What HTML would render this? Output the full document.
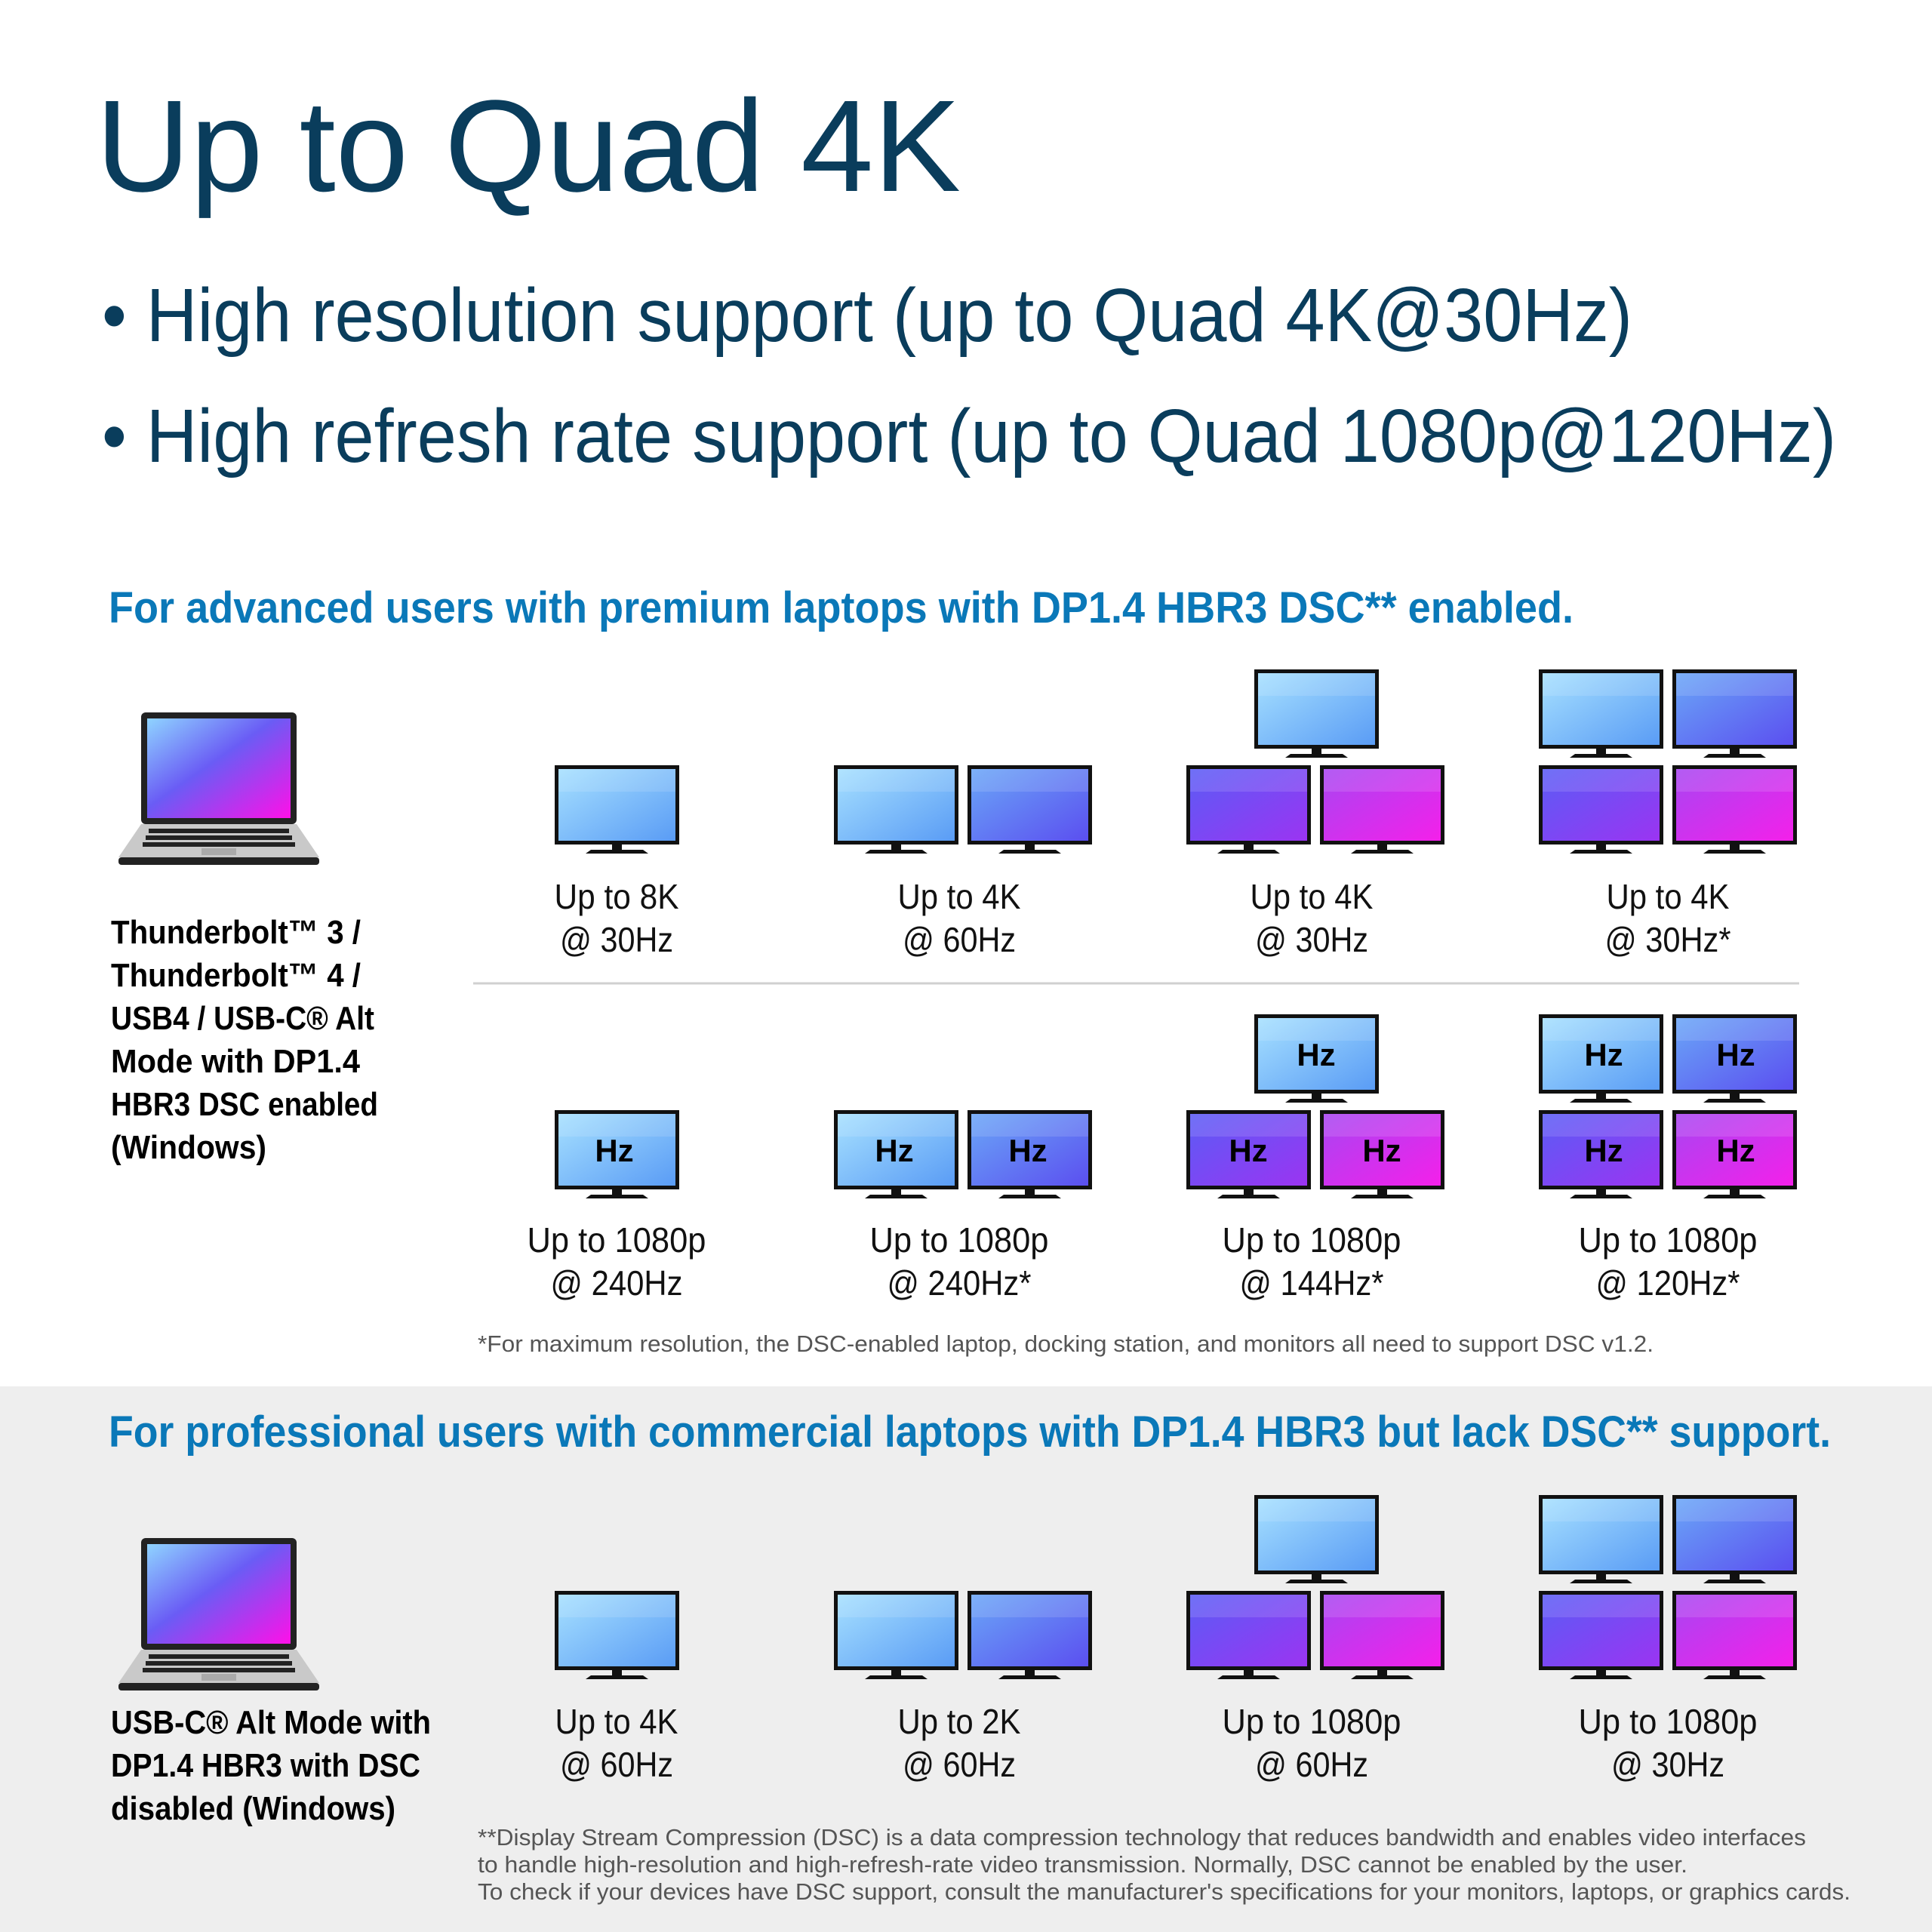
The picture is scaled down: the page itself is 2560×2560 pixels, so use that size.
<!DOCTYPE html>
<html><head><meta charset="utf-8"><style>
html,body{margin:0;padding:0;background:#fff}
svg{display:block}
text{font-family:"Liberation Sans",sans-serif}
</style></head><body>
<svg width="2560" height="2560" viewBox="0 0 2560 2560" xmlns="http://www.w3.org/2000/svg">
<defs>
<linearGradient id="g1" x1="0" y1="0" x2="1" y2="1"><stop offset="0" stop-color="#a6e0ff"/><stop offset="1" stop-color="#5a9cf5"/></linearGradient>
<linearGradient id="g2" x1="0" y1="0" x2="1" y2="1"><stop offset="0" stop-color="#6aa6f7"/><stop offset="1" stop-color="#5b4ff0"/></linearGradient>
<linearGradient id="g3" x1="0" y1="0" x2="1" y2="1"><stop offset="0" stop-color="#5b5cf5"/><stop offset="1" stop-color="#9b34f2"/></linearGradient>
<linearGradient id="g4" x1="0" y1="0" x2="1" y2="1"><stop offset="0" stop-color="#a845f2"/><stop offset="1" stop-color="#f420ea"/></linearGradient>
<linearGradient id="lg" x1="0" y1="0" x2="1" y2="1"><stop offset="0" stop-color="#8fd4ff"/><stop offset="0.45" stop-color="#6a5cf5"/><stop offset="1" stop-color="#ff10e8"/></linearGradient>
<g id="mon">
<rect x="0" y="0" width="165" height="105" fill="#111"/>
<rect x="5" y="5" width="155" height="95"/>
<rect x="5" y="5" width="155" height="30" fill="#fff" opacity="0.12"/>
<rect x="76" y="105" width="13" height="7" fill="#111"/>
<polygon points="48,112 117,112 124,117 41,117" fill="#111"/>
</g>
<g id="lap">
<rect x="30" y="0" width="206" height="148" rx="6" fill="#222"/>
<rect x="38" y="8" width="190" height="132" fill="url(#lg)"/>
<polygon points="30,148 236,148 266,192 0,192" fill="#c9c9c9"/>
<g fill="#222">
<rect x="40" y="154" width="186" height="6"/>
<rect x="36" y="163" width="194" height="6"/>
<rect x="32" y="172" width="202" height="6"/>
</g>
<rect x="110" y="180" width="46" height="9" fill="#aaa"/>
<rect x="0" y="192" width="266" height="10" rx="4" fill="#222"/>
</g>
</defs>

<text x="127" y="253" font-size="173" fill="#0a3d5c" textLength="1146" lengthAdjust="spacingAndGlyphs">Up to Quad 4K</text>
<text x="135" y="452" font-size="100" fill="#0a3d5c" textLength="2028" lengthAdjust="spacingAndGlyphs">• High resolution support (up to Quad 4K@30Hz)</text>
<text x="135" y="612" font-size="100" fill="#0a3d5c" textLength="2298" lengthAdjust="spacingAndGlyphs">• High refresh rate support (up to Quad 1080p@120Hz)</text>

<text x="144" y="825" font-size="58" font-weight="bold" fill="#0a78b8" textLength="1941" lengthAdjust="spacingAndGlyphs">For advanced users with premium laptops with DP1.4 HBR3 DSC** enabled.</text>

<rect x="0" y="1837" width="2560" height="723" fill="#eeeeee"/>
<text x="144" y="1917" font-size="58" font-weight="bold" fill="#0a78b8" textLength="2282" lengthAdjust="spacingAndGlyphs">For professional users with commercial laptops with DP1.4 HBR3 but lack DSC** support.</text>

<use href="#lap" x="157" y="944"/>
<use href="#lap" x="157" y="2038"/>

<g font-size="44" font-weight="bold" fill="#000">
<text x="147" y="1250" textLength="331" lengthAdjust="spacingAndGlyphs">Thunderbolt™ 3 /</text>
<text x="147" y="1307" textLength="331" lengthAdjust="spacingAndGlyphs">Thunderbolt™ 4 /</text>
<text x="147" y="1364" textLength="349" lengthAdjust="spacingAndGlyphs">USB4 / USB-C® Alt</text>
<text x="147" y="1421" textLength="330" lengthAdjust="spacingAndGlyphs">Mode with DP1.4</text>
<text x="147" y="1478" textLength="354" lengthAdjust="spacingAndGlyphs">HBR3 DSC enabled</text>
<text x="147" y="1535" textLength="206" lengthAdjust="spacingAndGlyphs">(Windows)</text>
<text x="147" y="2297" textLength="424" lengthAdjust="spacingAndGlyphs">USB-C® Alt Mode with</text>
<text x="147" y="2354" textLength="410" lengthAdjust="spacingAndGlyphs">DP1.4 HBR3 with DSC</text>
<text x="147" y="2411" textLength="377" lengthAdjust="spacingAndGlyphs">disabled (Windows)</text>
</g>

<!-- Row 1 -->
<use href="#mon" x="735" y="1014" fill="url(#g1)"/>
<use href="#mon" x="1105" y="1014" fill="url(#g1)"/>
<use href="#mon" x="1282" y="1014" fill="url(#g2)"/>
<use href="#mon" x="1662" y="887" fill="url(#g1)"/>
<use href="#mon" x="1572" y="1014" fill="url(#g3)"/>
<use href="#mon" x="1749" y="1014" fill="url(#g4)"/>
<use href="#mon" x="2039" y="887" fill="url(#g1)"/>
<use href="#mon" x="2216" y="887" fill="url(#g2)"/>
<use href="#mon" x="2039" y="1014" fill="url(#g3)"/>
<use href="#mon" x="2216" y="1014" fill="url(#g4)"/>

<line x1="627" y1="1303" x2="2384" y2="1303" stroke="#d0d0d0" stroke-width="3"/>

<!-- Row 2 -->
<use href="#mon" x="735" y="1471" fill="url(#g1)"/>
<use href="#mon" x="1105" y="1471" fill="url(#g1)"/>
<use href="#mon" x="1282" y="1471" fill="url(#g2)"/>
<use href="#mon" x="1662" y="1344" fill="url(#g1)"/>
<use href="#mon" x="1572" y="1471" fill="url(#g3)"/>
<use href="#mon" x="1749" y="1471" fill="url(#g4)"/>
<use href="#mon" x="2039" y="1344" fill="url(#g1)"/>
<use href="#mon" x="2216" y="1344" fill="url(#g2)"/>
<use href="#mon" x="2039" y="1471" fill="url(#g3)"/>
<use href="#mon" x="2216" y="1471" fill="url(#g4)"/>
<g font-size="42" font-weight="bold" fill="#000" text-anchor="middle">
<text x="814" y="1539">Hz</text>
<text x="1185" y="1539">Hz</text>
<text x="1362" y="1539">Hz</text>
<text x="1744" y="1412">Hz</text>
<text x="1654" y="1539">Hz</text>
<text x="1831" y="1539">Hz</text>
<text x="2125" y="1412">Hz</text>
<text x="2300" y="1412">Hz</text>
<text x="2125" y="1539">Hz</text>
<text x="2300" y="1539">Hz</text>
</g>

<!-- Section 2 -->
<use href="#mon" x="735" y="2108" fill="url(#g1)"/>
<use href="#mon" x="1105" y="2108" fill="url(#g1)"/>
<use href="#mon" x="1282" y="2108" fill="url(#g2)"/>
<use href="#mon" x="1662" y="1981" fill="url(#g1)"/>
<use href="#mon" x="1572" y="2108" fill="url(#g3)"/>
<use href="#mon" x="1749" y="2108" fill="url(#g4)"/>
<use href="#mon" x="2039" y="1981" fill="url(#g1)"/>
<use href="#mon" x="2216" y="1981" fill="url(#g2)"/>
<use href="#mon" x="2039" y="2108" fill="url(#g3)"/>
<use href="#mon" x="2216" y="2108" fill="url(#g4)"/>

<g font-size="46" fill="#111" text-anchor="middle">
<text x="817" y="1204" textLength="165" lengthAdjust="spacingAndGlyphs">Up to 8K</text>
<text x="817" y="1261" textLength="150" lengthAdjust="spacingAndGlyphs">@ 30Hz</text>
<text x="1271" y="1204" textLength="163" lengthAdjust="spacingAndGlyphs">Up to 4K</text>
<text x="1271" y="1261" textLength="150" lengthAdjust="spacingAndGlyphs">@ 60Hz</text>
<text x="1738" y="1204" textLength="163" lengthAdjust="spacingAndGlyphs">Up to 4K</text>
<text x="1738" y="1261" textLength="150" lengthAdjust="spacingAndGlyphs">@ 30Hz</text>
<text x="2210" y="1204" textLength="163" lengthAdjust="spacingAndGlyphs">Up to 4K</text>
<text x="2210" y="1261" textLength="167" lengthAdjust="spacingAndGlyphs">@ 30Hz*</text>

<text x="817" y="1659" textLength="237" lengthAdjust="spacingAndGlyphs">Up to 1080p</text>
<text x="817" y="1716" textLength="175" lengthAdjust="spacingAndGlyphs">@ 240Hz</text>
<text x="1271" y="1659" textLength="237" lengthAdjust="spacingAndGlyphs">Up to 1080p</text>
<text x="1271" y="1716" textLength="191" lengthAdjust="spacingAndGlyphs">@ 240Hz*</text>
<text x="1738" y="1659" textLength="237" lengthAdjust="spacingAndGlyphs">Up to 1080p</text>
<text x="1738" y="1716" textLength="191" lengthAdjust="spacingAndGlyphs">@ 144Hz*</text>
<text x="2210" y="1659" textLength="237" lengthAdjust="spacingAndGlyphs">Up to 1080p</text>
<text x="2210" y="1716" textLength="191" lengthAdjust="spacingAndGlyphs">@ 120Hz*</text>

<text x="817" y="2297" textLength="163" lengthAdjust="spacingAndGlyphs">Up to 4K</text>
<text x="817" y="2354" textLength="150" lengthAdjust="spacingAndGlyphs">@ 60Hz</text>
<text x="1271" y="2297" textLength="163" lengthAdjust="spacingAndGlyphs">Up to 2K</text>
<text x="1271" y="2354" textLength="150" lengthAdjust="spacingAndGlyphs">@ 60Hz</text>
<text x="1738" y="2297" textLength="237" lengthAdjust="spacingAndGlyphs">Up to 1080p</text>
<text x="1738" y="2354" textLength="150" lengthAdjust="spacingAndGlyphs">@ 60Hz</text>
<text x="2210" y="2297" textLength="237" lengthAdjust="spacingAndGlyphs">Up to 1080p</text>
<text x="2210" y="2354" textLength="150" lengthAdjust="spacingAndGlyphs">@ 30Hz</text>
</g>

<g font-size="31" fill="#555">
<text x="633" y="1791" textLength="1558" lengthAdjust="spacingAndGlyphs">*For maximum resolution, the DSC-enabled laptop, docking station, and monitors all need to support DSC v1.2.</text>
<text x="633" y="2445" textLength="1760" lengthAdjust="spacingAndGlyphs">**Display Stream Compression (DSC) is a data compression technology that reduces bandwidth and enables video interfaces</text>
<text x="633" y="2481" textLength="1603" lengthAdjust="spacingAndGlyphs">to handle high-resolution and high-refresh-rate video transmission. Normally, DSC cannot be enabled by the user.</text>
<text x="633" y="2517" textLength="1819" lengthAdjust="spacingAndGlyphs">To check if your devices have DSC support, consult the manufacturer's specifications for your monitors, laptops, or graphics cards.</text>
</g>
</svg>
</body></html>
